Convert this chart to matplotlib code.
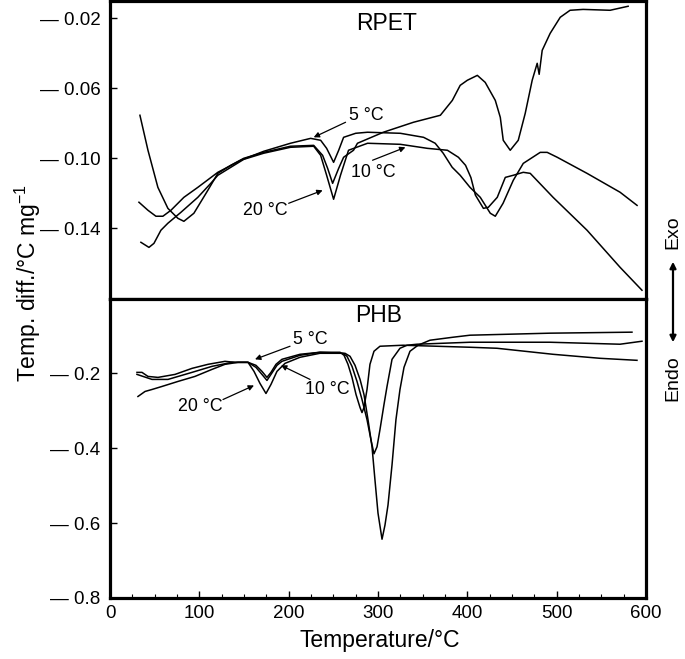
import matplotlib
matplotlib.use("Agg")
import matplotlib.pyplot as plt
from matplotlib.ticker import MultipleLocator

plt.rcParams['font.family'] = ['Liberation Sans', 'DejaVu Sans']

# ---------------- RPET (top panel) ----------------
rpet5_T = [32.4, 42.5, 51.4, 59.2, 68.2, 82.7, 98.3, 120.7, 146.4, 172, 202, 224.6, 235.8, 242.5,
           250.3, 256, 261.5, 275, 288.3, 325, 351, 364, 373, 383, 392, 403, 414.5, 425.7, 431.3,
           440, 451.4, 462.6, 481.6, 489.4, 500.6, 534, 571, 590]
rpet5_v = [-0.1251, -0.1297, -0.1331, -0.1331, -0.1297, -0.1223, -0.1166, -0.1080, -0.1011, -0.0960,
           -0.0914, -0.0886, -0.0897, -0.0943, -0.1023, -0.0954, -0.0880, -0.0857, -0.0851, -0.0857,
           -0.0880, -0.0914, -0.0971, -0.1051, -0.1097, -0.1166, -0.1223, -0.1314, -0.1331, -0.1257,
           -0.1126, -0.1029, -0.0966, -0.0966, -0.0994, -0.1086, -0.1194, -0.1269]

rpet10_T = [33.5, 42.5, 53.6, 64.8, 76, 82.7, 93.9, 109.5, 120.7, 135.2, 149.7, 172, 202, 228, 238,
            243.6, 249.2, 256, 261.5, 272.6, 277, 306, 339.7, 369.8, 383.2, 392, 400, 411.2, 420,
            431.3, 436.9, 440.2, 448, 457, 464.8, 472.6, 478.2, 480.4, 483.8, 492.7, 504, 515,
            529.6, 559.8, 580]
rpet10_v = [-0.0754, -0.0954, -0.1166, -0.1286, -0.1343, -0.1360, -0.1314, -0.1183, -0.1086, -0.1040,
            -0.1000, -0.0966, -0.0931, -0.0926, -0.0983, -0.1057, -0.1143, -0.1057, -0.0994, -0.0954,
            -0.0914, -0.0851, -0.0794, -0.0754, -0.0669, -0.0583, -0.0554, -0.0526, -0.0566, -0.0669,
            -0.0766, -0.0897, -0.0954, -0.0897, -0.0743, -0.0554, -0.0457, -0.0520, -0.0383, -0.0286,
            -0.0194, -0.0154, -0.0149, -0.0154, -0.0131]

rpet20_T = [34.6, 38, 43.6, 49.2, 57, 64.8, 79.3, 98.3, 112.8, 120.7, 149.7, 172, 202, 228, 235.8,
            242.5, 250.3, 258, 267, 288.3, 325, 355.3, 377.7, 390, 398, 404, 409, 418, 423.5, 433.5,
            442.5, 451.4, 462.6, 470.4, 496, 534, 571, 595.5]
rpet20_v = [-0.1480, -0.1491, -0.1509, -0.1486, -0.1411, -0.1371, -0.1309, -0.1223, -0.1143, -0.1097,
            -0.1006, -0.0971, -0.0937, -0.0931, -0.0983, -0.1097, -0.1234, -0.1097, -0.0954, -0.0914,
            -0.0920, -0.0943, -0.0954, -0.0994, -0.1040, -0.1110, -0.1210, -0.1286, -0.1280, -0.1223,
            -0.1109, -0.1097, -0.1080, -0.1086, -0.1223, -0.1411, -0.1623, -0.1754]

# ---------------- PHB (bottom panel) ----------------
phb5_T = [30.2, 35.8, 42.5, 53.7, 72.8, 91.8, 109.7, 128.7, 139.9, 154.5, 163.4, 170.1, 175.7, 180.2,
          185.8, 192.5, 212.7, 235, 257.5, 262, 266.4, 270.9, 275.4, 279.9, 282.1, 284.3, 287.7,
          291, 295.5, 302.2, 328, 403, 433.2, 495.9, 548.5, 589.9]
phb5_v = [-0.1973, -0.1973, -0.2081, -0.2107, -0.2027, -0.1866, -0.1758, -0.1678, -0.1705, -0.1705,
          -0.1785, -0.1946, -0.2107, -0.1973, -0.1758, -0.1624, -0.1490, -0.1436, -0.1436, -0.1517,
          -0.1758, -0.2107, -0.2564, -0.2913, -0.3047, -0.2913, -0.2430, -0.1758, -0.1409, -0.1275,
          -0.1248, -0.1302, -0.1329, -0.1490, -0.1597, -0.1651]

phb10_T = [30.2, 47, 64.9, 91.8, 114.2, 136.6, 154.5, 163.4, 170.1, 175.7, 180.2, 186.9, 192.5,
           212.7, 235, 260.8, 265.3, 270.9, 276.5, 282.1, 287.7, 292.1, 295.5, 298.9, 302.2, 306.7,
           310.1, 315.7, 324.6, 332.5, 343.7, 403, 492.5, 570.9, 595.5]
phb10_v = [-0.2027, -0.2161, -0.2161, -0.1973, -0.1812, -0.1705, -0.1705, -0.1839, -0.2027, -0.2188,
           -0.2027, -0.1785, -0.1678, -0.1517, -0.1436, -0.1463, -0.1544, -0.1812, -0.2215, -0.2698,
           -0.3235, -0.3772, -0.4148, -0.3960, -0.3503, -0.2832, -0.2349, -0.1624, -0.1329, -0.1248,
           -0.1221, -0.1168, -0.1168, -0.1221, -0.1141]

phb20_T = [31.3, 39.2, 47, 58.2, 76.1, 95.1, 114.2, 128.7, 143.3, 154.5, 161.2, 167.9, 174.6, 180.2,
           186.9, 195.9, 212.7, 235, 263, 268.7, 274.3, 279.9, 284.3, 288.8, 293.3, 296.6, 300,
           304.5, 307.8, 311.2, 315.7, 320.1, 324.6, 329.1, 335.8, 344.8, 358.2, 384, 403, 492.5,
           584.3]
phb20_v = [-0.2617, -0.2483, -0.2430, -0.2349, -0.2215, -0.2081, -0.1893, -0.1758, -0.1705, -0.1705,
           -0.1946, -0.2268, -0.2537, -0.2295, -0.1946, -0.1732, -0.1570, -0.1463, -0.1463, -0.1544,
           -0.1785, -0.2161, -0.2564, -0.3235, -0.3960, -0.4846, -0.5732, -0.6430, -0.6054, -0.5517,
           -0.4443, -0.3235, -0.2430, -0.1839, -0.1409, -0.1248, -0.1114, -0.1034, -0.0980, -0.0926,
           -0.0899]

top_ticks = [-0.02, -0.06, -0.10, -0.14]
top_labels = ['\u2014 0.02', '\u2014 0.06', '\u2014 0.10', '\u2014 0.14']
bot_ticks = [-0.2, -0.4, -0.6, -0.8]
bot_labels = ['\u2014 0.2', '\u2014 0.4', '\u2014 0.6', '\u2014 0.8']
x_ticks = [0, 100, 200, 300, 400, 500, 600]

fig = plt.figure(figsize=(6.85, 6.59), dpi=100)
L, R = 110 / 685, 646 / 685
y_top = 1 - 1 / 659
y_mid = 1 - 299 / 659
y_bot = 1 - 598 / 659
ax1 = fig.add_axes([L, y_mid, R - L, y_top - y_mid])
ax2 = fig.add_axes([L, y_bot, R - L, y_mid - y_bot])

lw = 1.1
for T, v in [(rpet5_T, rpet5_v), (rpet10_T, rpet10_v), (rpet20_T, rpet20_v)]:
    ax1.plot(T, v, color='black', lw=lw)
for T, v in [(phb5_T, phb5_v), (phb10_T, phb10_v), (phb20_T, phb20_v)]:
    ax2.plot(T, v, color='black', lw=lw)

ax1.set_xlim(0, 600)
ax2.set_xlim(0, 600)
ax1.set_ylim(-0.1804, -0.0101)
ax2.set_ylim(-0.8, -0.0013)

for ax in (ax1, ax2):
    for s in ax.spines.values():
        s.set_linewidth(2.3)
ax1.set_yticks(top_ticks)
ax1.set_yticklabels(top_labels)
ax2.set_yticks(bot_ticks)
ax2.set_yticklabels(bot_labels)
ax1.set_xticks([])
ax2.set_xticks(x_ticks)
ax2.xaxis.set_minor_locator(MultipleLocator(25))
ax1.tick_params(axis='y', direction='in', length=5, width=1, labelsize=13.5, pad=7)
ax2.tick_params(axis='y', direction='in', length=5, width=1, labelsize=13.5, pad=7)
ax2.tick_params(axis='x', which='major', direction='in', length=5, width=1, labelsize=13.5, pad=5)
ax2.tick_params(axis='x', which='minor', direction='in', length=3, width=0.8)

ax1.text(309.5, -0.0231, 'RPET', ha='center', va='center', fontsize=16.5)
ax2.text(301, -0.0443, 'PHB', ha='center', va='center', fontsize=16.5)

ann_kw = dict(arrowprops=dict(arrowstyle='-|>', color='black', lw=0.9,
                              mutation_scale=8, shrinkA=0, shrinkB=0),
              ha='center', va='center')
fs_ann = 12.8
ax1.annotate('', xy=(228, -0.0880), xytext=(263.7, -0.0794), **ann_kw)
ax1.text(287, -0.0754, '5 \u00b0C', ha='center', va='center', fontsize=fs_ann)
ax1.annotate('', xy=(330.7, -0.0937), xytext=(293.9, -0.1011), **ann_kw)
ax1.text(295, -0.1080, '10 \u00b0C', ha='center', va='center', fontsize=fs_ann)
ax1.annotate('', xy=(238, -0.1183), xytext=(200, -0.1257), **ann_kw)
ax1.text(174.3, -0.1297, '20 \u00b0C', ha='center', va='center', fontsize=fs_ann)

ax2.annotate('', xy=(162.3, -0.1624), xytext=(201.5, -0.1275), **ann_kw)
ax2.text(223.9, -0.1087, '5 \u00b0C', ha='center', va='center', fontsize=fs_ann)
ax2.annotate('', xy=(191.4, -0.1785), xytext=(223.9, -0.2161), **ann_kw)
ax2.text(242.9, -0.2430, '10 \u00b0C', ha='center', va='center', fontsize=fs_ann)
ax2.annotate('', xy=(161.2, -0.2322), xytext=(126.5, -0.2698), **ann_kw)
ax2.text(100.7, -0.2886, '20 \u00b0C', ha='center', va='center', fontsize=fs_ann)

fig.text(380 / 685, 1 - 640 / 659, 'Temperature/\u00b0C', ha='center', va='center', fontsize=16.5)
fig.text(28 / 685, 1 - 283 / 659, 'Temp. diff./\u00b0C mg$^{\\mathregular{-1}}$', rotation=90,
         ha='center', va='center', fontsize=16.5)

# Exo / Endo indicator
fig.text(673 / 685, 1 - 232 / 659, 'Exo', rotation=90, ha='center', va='center', fontsize=14)
fig.text(673 / 685, 1 - 378 / 659, 'Endo', rotation=90, ha='center', va='center', fontsize=14)
fig.patches.append(matplotlib.patches.FancyArrowPatch(
    (673 / 685, 1 - 345 / 659), (673 / 685, 1 - 259 / 659), transform=fig.transFigure,
    arrowstyle='<|-|>', mutation_scale=9, lw=1.6, color='black'))

fig.savefig('out.png', dpi=100)
